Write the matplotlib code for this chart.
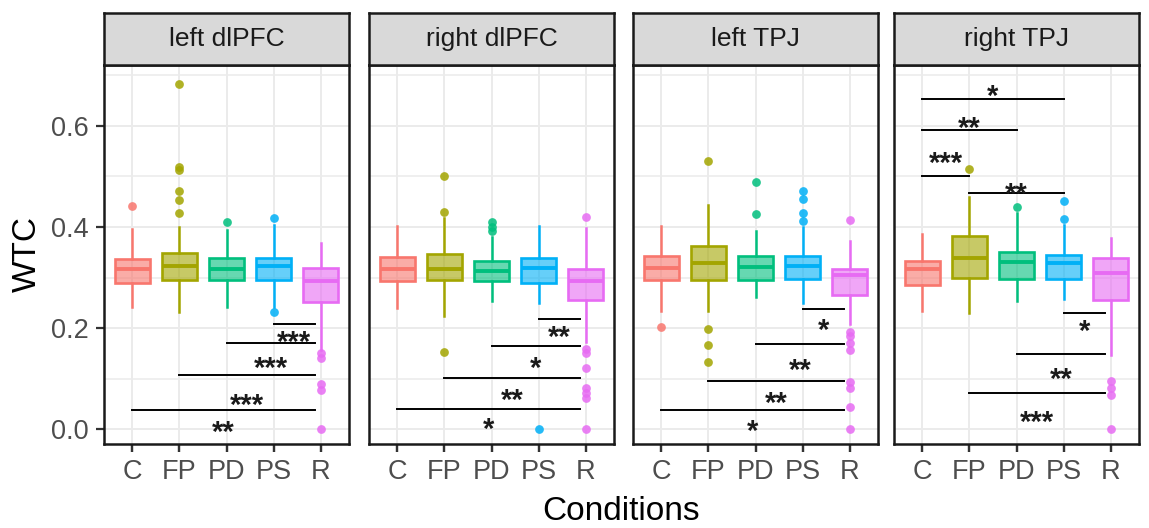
import matplotlib
matplotlib.use("Agg")
import matplotlib.pyplot as plt
from matplotlib.colors import to_rgba
from matplotlib.ticker import MultipleLocator

plt.rcParams['font.family'] = ['Liberation Sans', 'DejaVu Sans']

conditions = ["C", "FP", "PD", "PS", "R"]
regions = ["left dlPFC", "right dlPFC", "left TPJ", "right TPJ"]
colors = ["#F8766D", "#A3A500", "#00BF7D", "#00B0F6", "#E76BF3"]

# per condition: whisker low, Q1, median, Q3, whisker high
ldlpfc_stats = [
    [0.241, 0.290, 0.316, 0.337, 0.395],
    [0.231, 0.296, 0.323, 0.349, 0.399],
    [0.241, 0.296, 0.316, 0.339, 0.394],
    [0.242, 0.296, 0.323, 0.339, 0.404],
    [0.156, 0.251, 0.293, 0.319, 0.369],
]
ldlpfc_out = [[0.442], [0.683, 0.519, 0.513, 0.471, 0.453, 0.428], [0.410],
              [0.417, 0.231], [0.150, 0.141, 0.089, 0.077, 0.0]]

rdlpfc_stats = [
    [0.239, 0.293, 0.316, 0.340, 0.402],
    [0.224, 0.296, 0.316, 0.347, 0.418],
    [0.254, 0.293, 0.313, 0.333, 0.381],
    [0.250, 0.290, 0.319, 0.339, 0.402],
    [0.173, 0.255, 0.293, 0.316, 0.397],
]
rdlpfc_out = [[], [0.501, 0.429, 0.153], [0.409, 0.399, 0.391], [0.0],
              [0.420, 0.158, 0.151, 0.122, 0.081, 0.071, 0.061, 0.0]]

ltpj_stats = [
    [0.234, 0.295, 0.318, 0.343, 0.402],
    [0.234, 0.295, 0.328, 0.362, 0.444],
    [0.262, 0.295, 0.321, 0.343, 0.391],
    [0.250, 0.298, 0.323, 0.343, 0.399],
    [0.209, 0.265, 0.305, 0.316, 0.372],
]
ltpj_out = [[0.203], [0.531, 0.199, 0.166, 0.133], [0.488, 0.426],
            [0.471, 0.455, 0.427, 0.412],
            [0.414, 0.193, 0.184, 0.170, 0.156, 0.094, 0.081, 0.044, 0.0]]

rtpj_stats = [
    [0.234, 0.285, 0.317, 0.333, 0.387],
    [0.230, 0.300, 0.338, 0.382, 0.459],
    [0.254, 0.298, 0.331, 0.351, 0.428],
    [0.257, 0.298, 0.328, 0.345, 0.404],
    [0.147, 0.255, 0.308, 0.338, 0.378],
]
rtpj_out = [[], [0.514], [0.440], [0.452, 0.416], [0.096, 0.081, 0.067, 0.0]]

# significance brackets: (group a, group b, line y, label, label centre y)
ldlpfc_sig = [("PS", "R", 0.209, "***", 0.188), ("PD", "R", 0.171, "***", 0.137),
              ("FP", "R", 0.107, "***", 0.063), ("C", "R", 0.038, "**", 0.010)]
rdlpfc_sig = [("PS", "R", 0.218, "**", 0.197), ("PD", "R", 0.164, "*", 0.137),
              ("FP", "R", 0.102, "**", 0.074), ("C", "R", 0.041, "*", 0.015)]
ltpj_sig = [("PS", "R", 0.237, "*", 0.212), ("PD", "R", 0.168, "**", 0.132),
            ("FP", "R", 0.095, "**", 0.067), ("C", "R", 0.038, "*", 0.011)]
rtpj_sig = [("C", "PS", 0.653, "*", 0.673), ("C", "PD", 0.592, "**", 0.610),
            ("C", "FP", 0.501, "***", 0.541), ("FP", "PS", 0.467, "**", 0.481),
            ("PS", "R", 0.229, "*", 0.209), ("PD", "R", 0.149, "**", 0.114),
            ("FP", "R", 0.072, "***", 0.030)]

all_stats = [ldlpfc_stats, rdlpfc_stats, ltpj_stats, rtpj_stats]
all_out = [ldlpfc_out, rdlpfc_out, ltpj_out, rtpj_out]
all_sig = [ldlpfc_sig, rdlpfc_sig, ltpj_sig, rtpj_sig]

W, H = 1149, 528
fig = plt.figure(figsize=(W / 100, H / 100), dpi=100)

lefts = [104, 369, 633, 894]
pw = 245
top, bottom = 65, 444
strip_top = 13
star_fs = 21

for i, region in enumerate(regions):
    ax = fig.add_axes([lefts[i] / W, 1 - bottom / H, pw / W, (bottom - top) / H])
    ax.set_xlim(-0.6, 4.6)
    ax.set_ylim(-0.029, 0.72)
    ax.set_facecolor("white")

    ax.yaxis.set_major_locator(MultipleLocator(0.2))
    ax.yaxis.set_minor_locator(MultipleLocator(0.1))
    ax.set_xticks(range(len(conditions)))
    ax.set_xticklabels(conditions)
    ax.grid(which="major", color="#EBEBEB", linewidth=1.4, zorder=0)
    ax.grid(which="minor", axis="y", color="#EBEBEB", linewidth=1.1, zorder=0)
    ax.set_axisbelow(True)

    for j, c in enumerate(conditions):
        lo, q1, med, q3, hi = all_stats[i][j]
        s = dict(whislo=lo, q1=q1, med=med, q3=q3, whishi=hi, fliers=[], label=c)
        col = colors[j]
        ax.bxp([s], positions=[j], widths=0.75, showcaps=False, patch_artist=True,
               showfliers=False,
               boxprops=dict(facecolor=to_rgba(col, 0.6), edgecolor=col, linewidth=1.9),
               whiskerprops=dict(color=col, linewidth=1.8),
               medianprops=dict(color=col, linewidth=2.8))
        ys = all_out[i][j]
        ax.plot([j] * len(ys), ys, "o", color=col, markersize=6.3, alpha=0.85,
                markeredgewidth=0, zorder=3)

    for a, b, ly, lab, ty in all_sig[i]:
        xa = conditions.index(a)
        xb = conditions.index(b)
        if b == "R":
            xb = xb - 0.12
        ax.plot([xa, xb], [ly, ly], color="black", linewidth=1.4, zorder=4)
        ax.annotate(lab, xy=((xa + xb) / 2, ty), xytext=(0, -0.57 * star_fs),
                    textcoords="offset points", ha="center", va="baseline",
                    fontsize=star_fs, fontweight="bold", color="#1A1A1A", zorder=5)

    for sp in ax.spines.values():
        sp.set_color("#1A1A1A")
        sp.set_linewidth(1.8)
    ax.tick_params(axis="both", which="major", length=6, width=1.6, color="#333333",
                   labelsize=19.5, labelcolor="#4D4D4D", pad=4.8)
    ax.tick_params(axis="y", which="minor", length=0)
    if i > 0:
        ax.tick_params(axis="y", which="both", left=False, labelleft=False)

    # facet strip
    sax = fig.add_axes([lefts[i] / W, 1 - top / H, pw / W, (top - strip_top) / H])
    sax.set_facecolor("#D9D9D9")
    sax.set_xticks([])
    sax.set_yticks([])
    for sp in sax.spines.values():
        sp.set_color("#1A1A1A")
        sp.set_linewidth(1.8)
    sax.text(0.5, 0.5, region, transform=sax.transAxes, ha="center", va="center",
             fontsize=19, color="#1A1A1A")

fig.text((lefts[0] + lefts[-1] + pw) / 2 / W, 1 - 512 / H, "Conditions",
         ha="center", va="center", fontsize=24, color="black")
fig.text(27 / W, 1 - (top + bottom) / 2 / H, "WTC", rotation=90,
         ha="center", va="center", fontsize=24, color="black")

fig.savefig("out.png", dpi=100, facecolor="white")
